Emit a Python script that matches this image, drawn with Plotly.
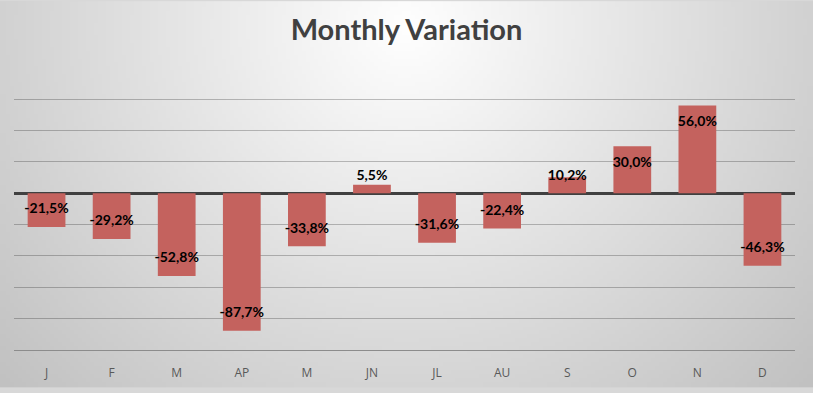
import base64, struct, zlib
import numpy as np
import plotly.graph_objects as go

months = ["J", "F", "M", "AP", "M", "JN", "JL", "AU", "S", "O", "N", "D"]
variation = [-21.5, -29.2, -52.8, -87.7, -33.8, 5.5, -31.6, -22.4, 10.2, 30.0, 56.0, -46.3]

W, H = 813, 393
ML, MR, MT, MB = 14, 18, 67, 38
PW, PH = W - ML - MR, H - MT - MB

# radial gradient background as an image
def gradient_png(w, h):
    xs = np.linspace(0, W, w)
    ys = np.linspace(0, H, h)
    X, Y = np.meshgrid(xs, ys)
    d = np.sqrt(((X - 406) / 430) ** 2 + ((Y - 25) / 420) ** 2)
    g = np.clip(255 - 48 * d, 0, 255).astype(np.uint8)
    raw = b"".join(b"\x00" + bytes(np.stack([row, row, row], axis=1).flatten()) for row in g)
    def chunk(t, data):
        c = struct.pack(">I", len(data)) + t + data
        return c + struct.pack(">I", zlib.crc32(t + data) & 0xffffffff)
    png = b"\x89PNG\r\n\x1a\n" + chunk(b"IHDR", struct.pack(">IIBBBBB", w, h, 8, 2, 0, 0, 0))
    png += chunk(b"IDAT", zlib.compress(raw, 9)) + chunk(b"IEND", b"")
    return "data:image/png;base64," + base64.b64encode(png).decode()

idx = list(range(len(months)))
labels = [f"{v:.1f}".replace(".", ",") + "%" for v in variation]
label_y = [np.sign(v) * max(abs(v) - 11, 10.5) for v in variation]

fig = go.Figure()
fig.add_trace(go.Bar(x=idx, y=variation, marker_color="#c4625e", marker_line_width=0,
                     hoverinfo="skip"))
fig.add_trace(go.Scatter(x=idx, y=label_y, mode="text", text=labels,
                         textposition="middle center",
                         textfont=dict(family="Lato", size=14, color="#000000", weight="bold"),
                         hoverinfo="skip"))

fig.update_layout(
    width=W, height=H,
    margin=dict(l=ML, r=MR, t=MT, b=MB),
    paper_bgcolor="#d8d8d8", plot_bgcolor="rgba(0,0,0,0)",
    showlegend=False, bargap=0.42,
    title=dict(text="Monthly Variation", x=0.5, xanchor="center", y=1 - 30 / H, yanchor="middle",
               font=dict(family="Lato", size=29, color="#404040", weight="bold")),
    images=[dict(source=gradient_png(203, 98), xref="paper", yref="paper",
                 x=-ML / PW, y=1 + MT / PH, sizex=W / PW, sizey=H / PH,
                 sizing="stretch", layer="below", xanchor="left", yanchor="top")],
    xaxis=dict(tickvals=idx, ticktext=months, range=[-0.5, 11.5], showgrid=False,
               zeroline=False, showline=True, linecolor="#8c8c8c", linewidth=1,
               ticks="", ticklabelstandoff=12,
               tickfont=dict(family="Open Sans", size=12, color="#595959")),
    yaxis=dict(range=[-100, 80.6], dtick=20, tick0=0, showticklabels=False, showgrid=True,
               gridcolor="rgba(0,0,0,0.24)", gridwidth=1, zeroline=True,
               zerolinecolor="#404040", zerolinewidth=3, ticks="", showline=False,
               mirror=False),
)

fig.write_html("out.html", config={"displayModeBar": False},
               post_script=("document.documentElement.style.margin='0';"
                            "document.body.style.margin='0';"
                            "document.body.style.overflow='hidden';"
                            "document.body.style.background='#d8d8d8';"))
